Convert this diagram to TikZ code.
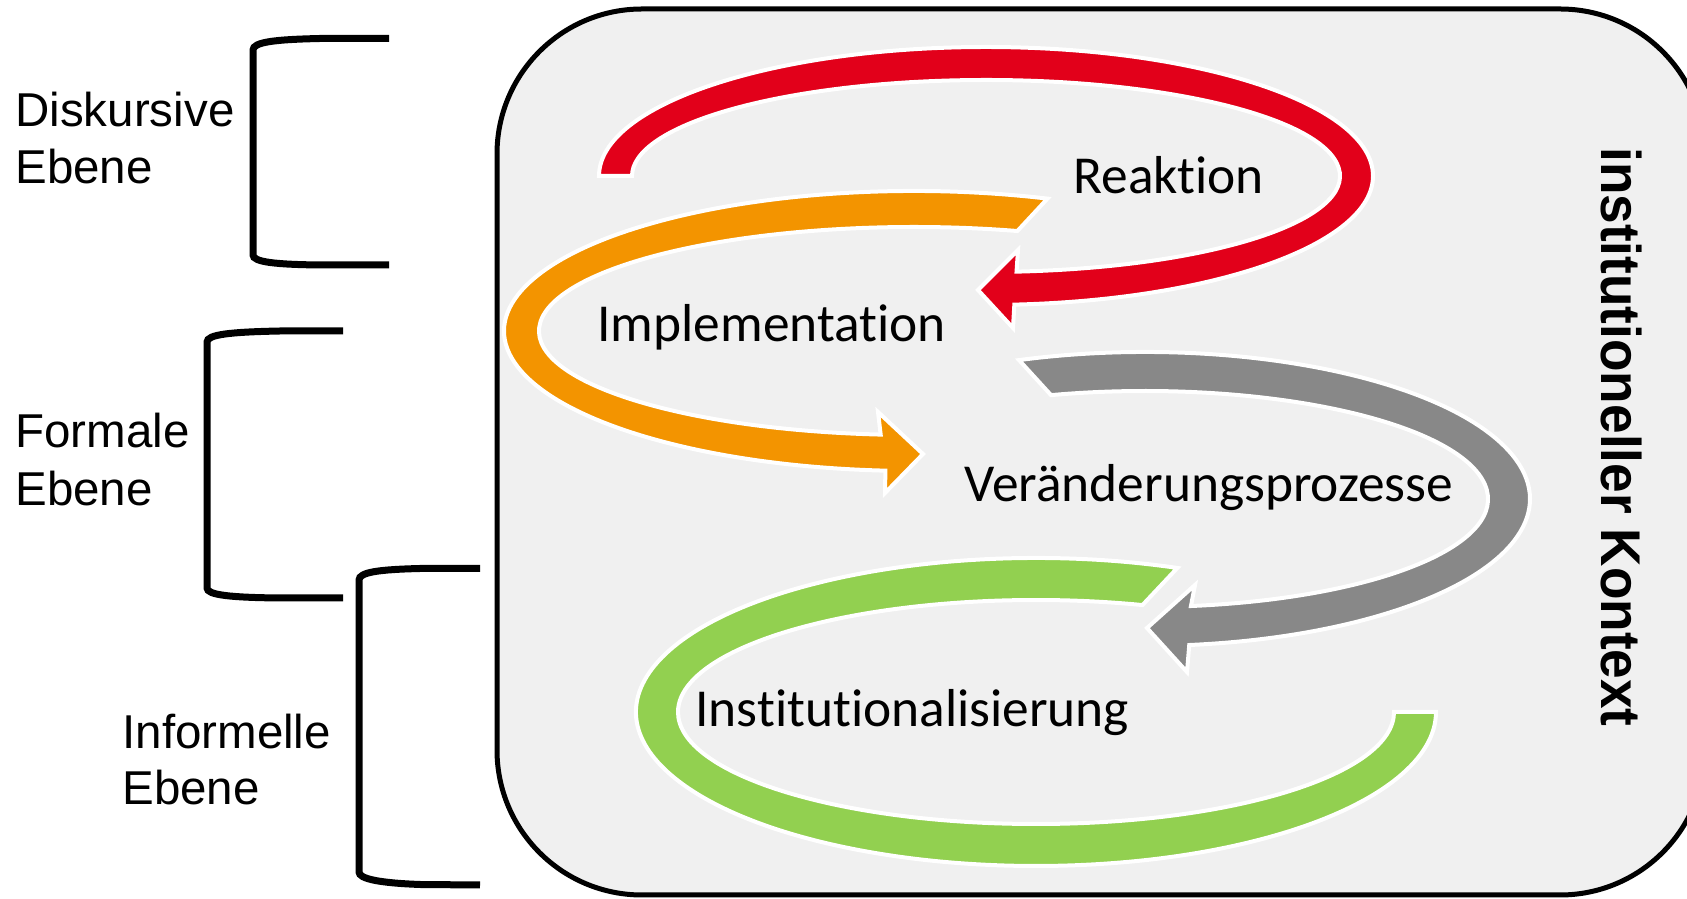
\documentclass[tikz,border=0pt]{standalone}
\usepackage{fontspec}
\usepackage{graphicx}
\setmainfont{Carlito}[Ligatures=NoCommon]
\newfontfamily\arialfont{Liberation Sans}
\usetikzlibrary{calc}
\definecolor{bandred}{RGB}{226,0,26}
\definecolor{bandorange}{RGB}{243,148,0}
\definecolor{bandgray}{RGB}{136,136,136}
\definecolor{bandgreen}{RGB}{146,208,80}
\definecolor{boxfill}{RGB}{240,240,240}
\begin{document}
\begin{tikzpicture}[x=0.5pt,y=0.5pt,
  band/.style={draw=white,line width=2pt,line join=miter},
  bracketline/.style={draw=black,line width=3.5pt},
  lvl/.style={font=\arialfont\fontsize{23.75pt}{28.5pt}\selectfont,anchor=base west,inner sep=0pt},
  steplabel/.style={font=\fontsize{26.7pt}{32pt}\selectfont,anchor=base west,inner sep=0pt}]
\clip (0,0) rectangle (1687,899);
\fill[white] (0,0) rectangle (1687,899);
% context box
\draw[fill=boxfill,line width=2.5pt,rounded corners=72.5pt] (497,4) rectangle (1705,890);
% brackets
\draw[bracketline] (389,860.5) -- (320,860.5) .. controls (275,859.5) and (253,857) .. (253,849) -- (253,644) .. controls (253,637) and (275,634.5) .. (320,634) -- (389,634);
\draw[bracketline] (343,568) -- (280,568) .. controls (230,567) and (207,564.5) .. (207,557) -- (207,311) .. controls (207,304) and (230,301.5) .. (280,301) -- (343,301);
\draw[bracketline] (480,330.5) -- (420,330.5) .. controls (380,329.5) and (359,327) .. (359,319) -- (359,27) .. controls (359,20) and (380,16) .. (420,14.5) -- (480,14);
% bands
\coordinate (cR) at (986,723);
\coordinate (cO) at (914,568);
\coordinate (cG) at (1145,400);
\coordinate (cN) at (1036,187);
\filldraw[band,fill=bandred] (cR) ++(180:387 and 129) arc[start angle=180,end angle=-85.8,x radius=387,y radius=129]
  -- (1013,571) -- (978,609) -- (1018,649) -- ($(cR)+(-85.05:354 and 96)$)
  arc[start angle=-85.05,end angle=180,x radius=354,y radius=96] -- cycle;
\filldraw[band,fill=bandorange] (cO) ++(71:410 and 140) arc[start angle=71,end angle=266,x radius=410,y radius=140]
  -- (885,406) -- (923,445) -- (878,487) -- ($(cO)+(264.9:375 and 104)$)
  arc[start angle=264.9,end angle=74,x radius=375,y radius=104] -- cycle;
\filldraw[band,fill=bandgray] (cG) ++(109.1:385 and 147) arc[start angle=109.1,end angle=-83.4,x radius=385,y radius=147]
  -- (1187,227) -- (1147,271) -- (1195,314) -- ($(cG)+(-82.3:343 and 108)$)
  arc[start angle=-82.3,end angle=105.9,x radius=343,y radius=108] -- cycle;
\filldraw[band,fill=bandgreen] (cN) ++(69.3:400 and 154) arc[start angle=69.3,end angle=360,x radius=400,y radius=154]
  -- ($(cN)+(0:358 and 112)$) arc[start angle=360,end angle=72.7,x radius=358,y radius=112] -- cycle;
% step labels
\node[steplabel] (reak) at (1073,705) {Reaktion};
\node[steplabel] (impl) at (597,557) {Implementation};
\node[steplabel] (ver) at (964,397) {Veränderungsprozesse};
\node[steplabel] (inst) at (695,172) {Institutionalisierung};
% level labels
\node[lvl] (d1) at (15,772) {Diskursive};
\node[lvl] (d2) at (15,715) {Ebene};
\node[lvl] (f1) at (15,451) {Formale};
\node[lvl] (f2) at (15,393) {Ebene};
\node[lvl] (i1) at (122,150) {Informelle};
\node[lvl] (i2) at (122,94) {Ebene};
% context label
\node[anchor=base west,inner sep=0pt,rotate=-90,font=\arialfont\bfseries\fontsize{28pt}{33pt}\selectfont] (ctx) at (1601,752) {\scalebox{0.95}[1]{institutioneller Kontext}};
\end{tikzpicture}
\end{document}
